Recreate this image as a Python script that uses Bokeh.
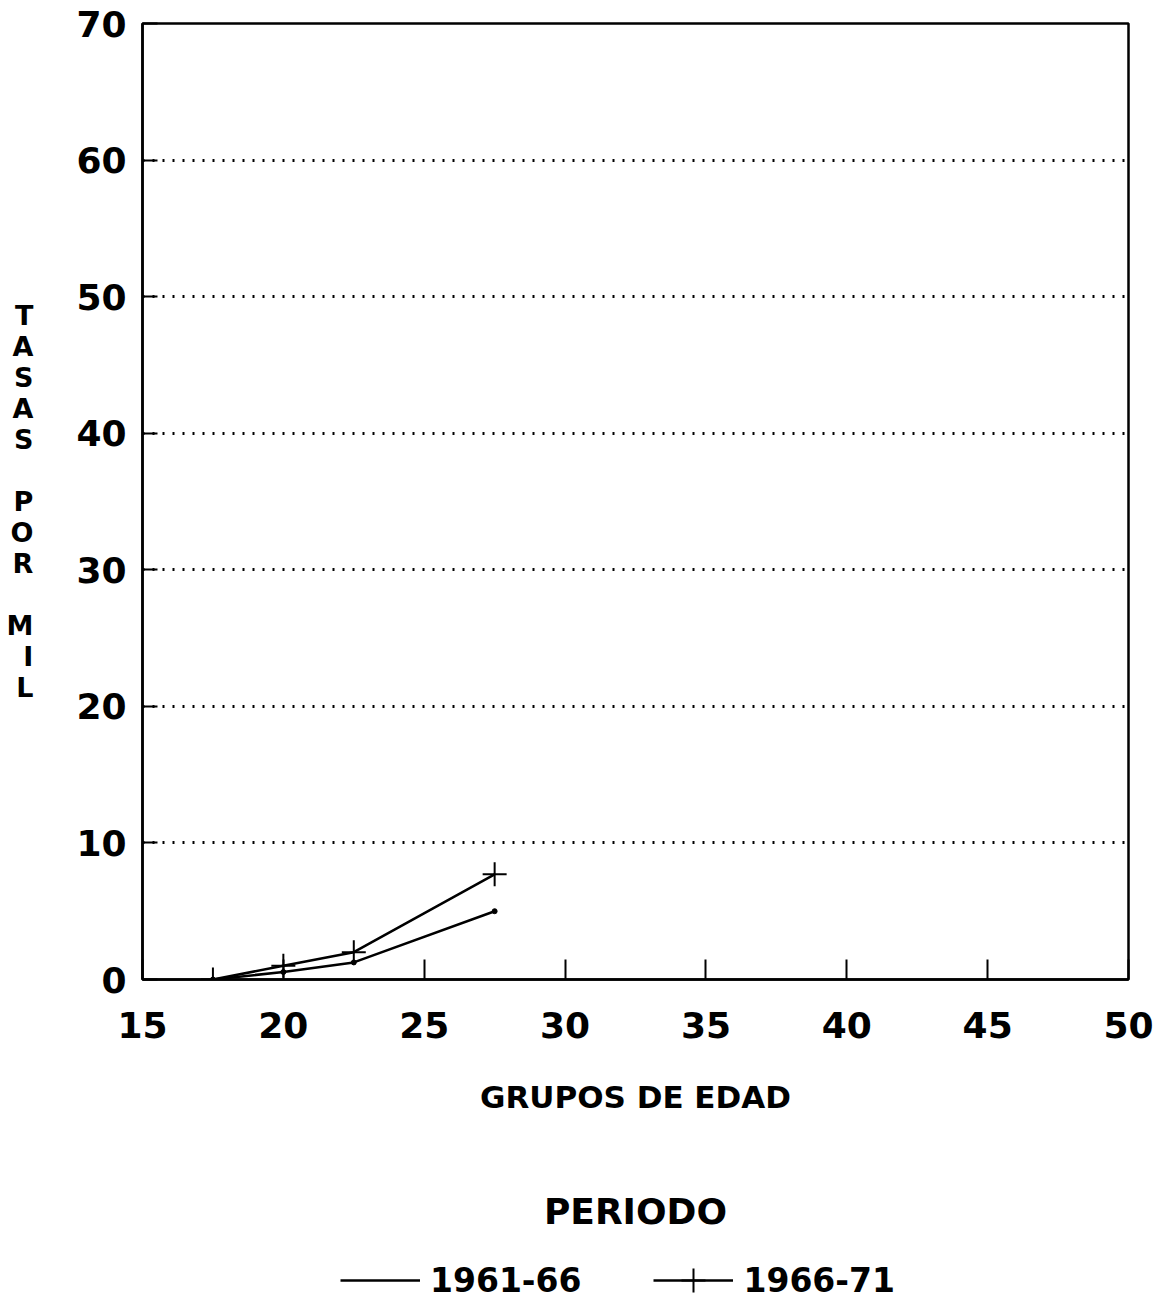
from bokeh.plotting import figure
from bokeh.layouts import column
from bokeh.models import Range1d, Legend, LegendItem, FixedTicker, Label
from bokeh.embed import file_html
from bokeh.resources import INLINE

# Age-group midpoints and rates per thousand for each period
ages = [17.5, 20, 22.5, 27.5]
rates_1961_66 = [0.0, 0.55, 1.25, 5.0]
rates_1966_71 = [0.0, 1.0, 2.0, 7.7]
periods = ["1961-66", "1966-71"]

x_ticks = [15, 20, 25, 30, 35, 40, 45, 50]
y_ticks = [0, 10, 20, 30, 40, 50, 60, 70]

y_title = "TASAS POR MIL"
x_title = "GRUPOS DE EDAD"
legend_title = "PERIODO"

FONT = "DejaVu Sans"
W = 1163
CHART_H = 1151
KEY_H = 150
LEFT, RIGHT = 142, 35

# ---- main chart ----
p = figure(width=W, height=CHART_H, x_range=Range1d(15, 50), y_range=Range1d(0, 70),
           min_border_left=LEFT, min_border_right=RIGHT,
           min_border_top=23, min_border_bottom=172,
           output_backend="svg", toolbar_location=None)

p.background_fill_color = "white"
p.border_fill_color = "white"
p.outline_line_color = "black"
p.outline_line_width = 2.5
p.outline_line_alpha = 1.0

p.xgrid.grid_line_color = None
p.ygrid.grid_line_color = "black"
p.ygrid.grid_line_dash = "2 8"
p.ygrid.grid_line_width = 3

p.xaxis.ticker = FixedTicker(ticks=x_ticks)
p.yaxis.ticker = FixedTicker(ticks=y_ticks)
for ax in (p.xaxis, p.yaxis):
    ax.axis_line_color = "black"
    ax.axis_line_width = 2.5
    ax.major_tick_line_color = "black"
    ax.major_tick_line_width = 2
    ax.major_tick_out = 0
    ax.minor_tick_line_color = None
    ax.major_label_text_font = FONT
    ax.major_label_text_font_style = "bold"
    ax.major_label_text_font_size = "36px"
    ax.major_label_text_color = "black"
    ax.axis_label_text_font = FONT
    ax.axis_label_text_font_style = "bold"
    ax.axis_label_text_color = "black"

p.xaxis.major_tick_in = 20
p.yaxis.major_tick_in = 15
p.xaxis.major_label_standoff = 32
p.yaxis.major_label_standoff = 16

p.xaxis.axis_label = x_title
p.xaxis.axis_label_text_font_size = "31px"
p.xaxis.axis_label_standoff = 38

# Y title written upright, one letter per line
p.yaxis.axis_label = "\n".join(y_title)
p.yaxis.axis_label_orientation = "horizontal"
p.yaxis.axis_label_text_font_size = "27px"
p.yaxis.axis_label_text_line_height = 1.0
p.yaxis.axis_label_standoff = 40

# Series
p.line(ages, rates_1961_66, line_color="black", line_width=2.5)
p.scatter(ages, rates_1961_66, marker="circle", size=5,
          fill_color="black", line_color="black")
p.line(ages, rates_1966_71, line_color="black", line_width=2.5)
p.scatter(ages, rates_1966_71, marker="cross", size=24,
          line_color="black", line_width=2)

# ---- key beneath the chart (x in page pixels, frame aligned with the chart) ----
k = figure(width=W, height=KEY_H, x_range=Range1d(LEFT, W - RIGHT), y_range=Range1d(0, KEY_H),
           min_border_left=LEFT, min_border_right=RIGHT, min_border_top=0, min_border_bottom=0,
           x_axis_type=None, y_axis_type=None,
           output_backend="svg", toolbar_location=None)
k.outline_line_color = None
k.grid.grid_line_color = None
k.background_fill_color = "white"
k.border_fill_color = "white"

k.add_layout(Label(x=635, y=90, text=legend_title, text_align="center",
                   text_baseline="middle", text_font=FONT, text_font_style="bold",
                   text_font_size="36px", text_color="black"))

# style-only renderers for the key swatches (no visible data)
nan = [float("nan")]
k1 = k.line(nan, nan, line_color="black", line_width=2.5)
k2 = k.line(nan, nan, line_color="black", line_width=2.5)
k3 = k.scatter(nan, nan, marker="cross", line_color="black", line_width=2)

key = Legend(items=[LegendItem(label=periods[0], renderers=[k1]),
                    LegendItem(label=periods[1], renderers=[k2, k3])],
             orientation="horizontal", location=(340 - LEFT, -9),
             glyph_width=80, glyph_height=60, label_standoff=10, spacing=72,
             padding=0, margin=0, border_line_alpha=0, background_fill_alpha=0,
             label_text_font=FONT, label_text_font_style="bold",
             label_text_font_size="33px", label_text_color="black")
k.add_layout(key)

layout = column(p, k, spacing=0)
open("out.html", "w").write(file_html(layout, INLINE))
